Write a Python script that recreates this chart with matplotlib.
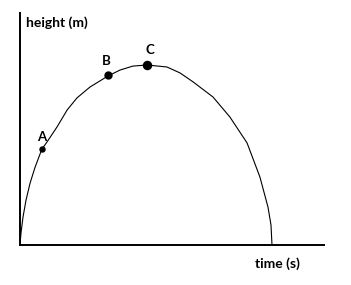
import matplotlib
matplotlib.use('Agg')
import matplotlib.pyplot as plt

# curve (time in s, height in m, arbitrary scale)
time = [0.0, 0.04, 0.12, 0.24, 0.40, 0.60, 0.87, 1.07, 1.47, 1.87, 2.26,
        2.78, 3.49, 3.97, 4.48, 5.04, 5.83, 6.35, 6.87, 7.66, 8.33, 9.01,
        9.52, 9.84, 9.96, 10.0]
height = [0.0, 0.67, 1.56, 2.50, 3.44, 4.33, 5.33, 5.72, 6.56, 7.50, 8.17,
          8.78, 9.39, 9.72, 9.94, 10.0, 9.89, 9.56, 9.06, 8.22, 7.11, 5.67,
          3.78, 2.11, 1.11, 0.0]

# marked points
labels = ['A', 'B', 'C']
pt_time = [0.87, 3.49, 5.04]
pt_height = [5.33, 9.44, 10.0]

fig = plt.figure(figsize=(3.51, 2.85), dpi=100)
ax = fig.add_axes([20 / 351, 40 / 285, 304 / 351, 232 / 285])
ax.set_xlim(0, 304 / 25.2)
ax.set_ylim(0, 232 / 18)

ax.plot(time, height, color='black', lw=0.8, solid_joinstyle='round')

# marker size and label offset (points) for A, B, C
sizes = [3.6, 5.0, 5.8]
offs = [(0, 8.6), (-1.5, 9.8), (2.2, 10.8)]
for lab, t, h, s, o in zip(labels, pt_time, pt_height, sizes, offs):
    ax.plot(t, h, 'o', color='black', ms=s)
    ax.annotate(lab, (t, h), xytext=o, textcoords='offset points',
                ha='center', va='center', fontsize=9.5, fontweight='bold',
                family='Lato')

for side in ['top', 'right']:
    ax.spines[side].set_visible(False)
for side in ['left', 'bottom']:
    ax.spines[side].set_linewidth(1.4)
ax.set_xticks([])
ax.set_yticks([])

ax.text(0.24, 12.33, 'height (m)', ha='left', va='center', fontsize=10,
        fontweight='bold', family='Lato')
ax.text(10.2, -1.06, 'time (s)', ha='center', va='center', fontsize=10,
        fontweight='bold', family='Lato', clip_on=False)

plt.savefig('out.png', dpi=100)
